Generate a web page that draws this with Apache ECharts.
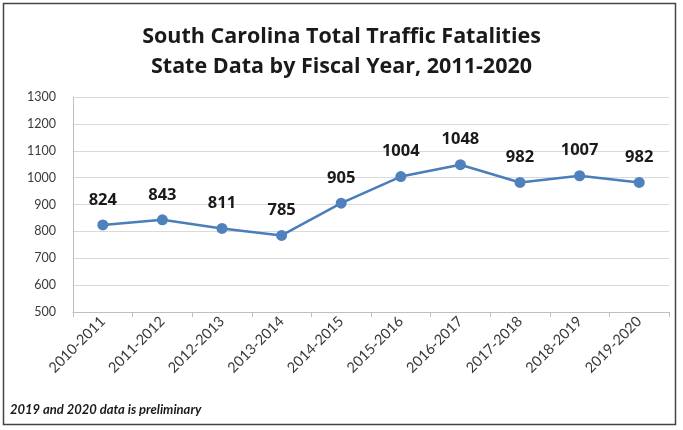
<!DOCTYPE html>
<html><head><meta charset="utf-8">
<script src="https://cdn.jsdelivr.net/npm/echarts@6/dist/echarts.min.js"></script>
<style>html,body{margin:0;padding:0;background:#fff}#c{width:683px;height:430px}</style>
</head><body><div id="c"></div>
<script>
const categories = ['2010-2011','2011-2012','2012-2013','2013-2014','2014-2015','2015-2016','2016-2017','2017-2018','2018-2019','2019-2020'];
const fatalities = [824, 843, 811, 785, 905, 1004, 1048, 982, 1007, 982];
const yTicks = [500, 600, 700, 800, 900, 1000, 1100, 1200, 1300];
const titleLines = ['South Carolina Total Traffic Fatalities', 'State Data by Fiscal Year, 2011-2020'];
const footnote = '2019 and 2020 data is preliminary';

const chart = echarts.init(document.getElementById('c'));
chart.setOption({
  animation: false,
  backgroundColor: '#fff',
  title: {
    text: titleLines.join('\n'),
    left: 'center', top: 17,
    textStyle: {fontFamily: 'Open Sans', fontWeight: 'bold', fontSize: 21.5, color: '#1a1a1a', lineHeight: 30}
  },
  graphic: [
    {type: 'rect', shape: {x: 3.5, y: 3.5, width: 672, height: 421}, style: {fill: 'none', stroke: '#444', lineWidth: 1.5}, z: 100},
    {type: 'text', left: 10, top: 403, style: {text: footnote, font: 'italic bold 13px Lato', fill: '#1a1a1a'}}
  ],
  grid: {left: 73, right: 14, top: 97, bottom: 118},
  xAxis: {
    type: 'category', data: categories, boundaryGap: true,
    axisLine: {lineStyle: {color: '#bfbfbf'}},
    axisTick: {show: true, length: 5, lineStyle: {color: '#bfbfbf'}},
    axisLabel: {rotate: 45, color: '#3a3a3a', fontFamily: 'Lato', fontSize: 14.5, margin: 7}
  },
  yAxis: {
    type: 'value', min: yTicks[0], max: yTicks[yTicks.length-1], interval: 100,
    axisLine: {show: true, lineStyle: {color: '#bfbfbf'}},
    axisTick: {show: false},
    axisLabel: {color: '#3a3a3a', fontFamily: 'Lato', fontSize: 12.5, margin: 17, formatter: v => String(v)},
    splitLine: {lineStyle: {color: '#d9d9d9', width: 1}}
  },
  series: [{
    type: 'line', data: fatalities,
    symbol: 'circle', symbolSize: 11,
    lineStyle: {color: '#4a7ebb', width: 2.5},
    itemStyle: {color: '#4f81bd'},
    label: {show: true, position: 'top', distance: 11, fontFamily: 'Open Sans', fontWeight: 'bold', fontSize: 16.5, color: '#1a1a1a'}
  }]
});
</script></body></html>
